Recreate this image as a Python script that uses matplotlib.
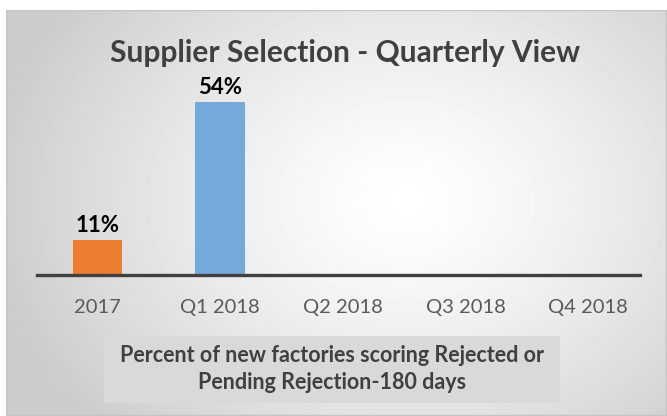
import numpy as np
import matplotlib.pyplot as plt
from matplotlib.patches import Rectangle

categories = ["2017", "Q1 2018", "Q2 2018", "Q3 2018", "Q4 2018"]
values = [11, 54, 0, 0, 0]
labels = ["11%", "54%", "", "", ""]
colors = ["#ED7D31", "#75A9DC", "#75A9DC", "#75A9DC", "#75A9DC"]

title = "Supplier Selection - Quarterly View"
footnote = "Percent of new factories scoring Rejected or\nPending Rejection-180 days"

plt.rcParams['font.family'] = ['Lato', 'DejaVu Sans']

fig = plt.figure(figsize=(6.67, 4.16), dpi=100)
fig.patch.set_facecolor("white")

# radial grey background panel
bg = fig.add_axes([6 / 667, 0, 661 / 667, 406 / 416])
yy, xx = np.mgrid[0:406, 0:661]
r = np.sqrt(((xx - 400) / 420) ** 2 + ((yy - 190) / 330) ** 2)
shade = 1.0 - 0.20 * np.clip(r, 0, 1) ** 1.3
bg.imshow(shade, cmap="gray", vmin=0, vmax=1, aspect="auto",
          extent=[0, 661, 406, 0])
bg.set_xlim(0, 661)
bg.set_ylim(406, 0)
bg.axis("off")
bg.add_patch(Rectangle((0, 0), 660, 405, fill=False, edgecolor="#c4c4c4", lw=1))

ax = fig.add_axes([37 / 667, 141 / 416, 603 / 667, 192 / 416])
ax.patch.set_alpha(0)
x = np.arange(len(categories))
ax.bar(x, values, width=0.4, color=colors)
for xi, v, lab in zip(x, values, labels):
    if lab:
        ax.text(xi, v + 1.2, lab, ha="center", va="bottom", fontsize=16,
                fontweight="bold", color="black")
ax.set_xlim(-0.49, 4.42)
ax.set_ylim(0, 60)
ax.set_yticks([])
for s in ["top", "right", "left"]:
    ax.spines[s].set_visible(False)
ax.spines["bottom"].set_color("#404040")
ax.spines["bottom"].set_linewidth(2.4)
ax.set_xticks(x)
ax.set_xticklabels(categories, fontsize=14.5, color="#595959")
ax.tick_params(axis="x", length=0, pad=17)

fig.text(345 / 667, 1 - 53 / 416, title, ha="center", va="center",
         fontsize=21.5, fontweight="bold", color="#404040")

fig.patches.append(Rectangle((104 / 667, 1 - 403 / 416), 456 / 667, 67 / 416,
                             transform=fig.transFigure, facecolor="#d9d9d9",
                             edgecolor="none", zorder=1))
fig.text(332 / 667, 1 - 369 / 416, footnote, ha="center", va="center",
         fontsize=15.5, fontweight="bold", color="#404040", linespacing=1.3,
         zorder=2)

fig.savefig("out.png", dpi=100, facecolor=fig.get_facecolor())
